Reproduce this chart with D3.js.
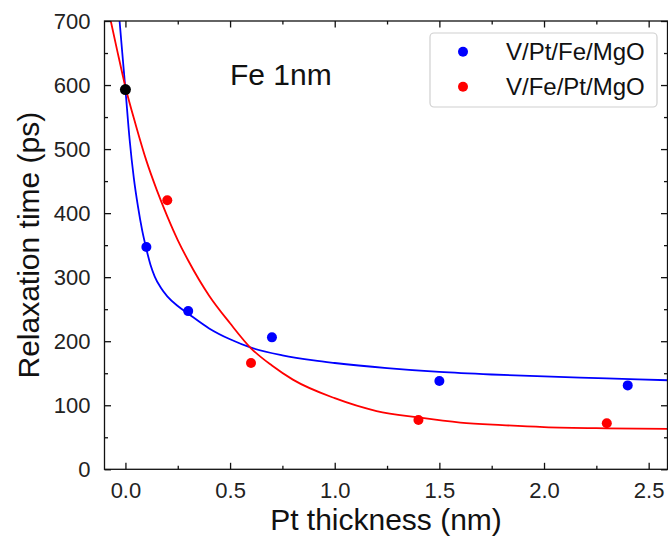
<!DOCTYPE html>
<html>
<head>
<meta charset="utf-8">
<script src="https://cdn.jsdelivr.net/npm/d3@7"></script>
<style>
  html, body { margin: 0; padding: 0; background: #fff; }
  svg { display: block; font-family: "Liberation Sans", Arial, sans-serif; }
</style>
</head>
<body>
<svg id="chart" width="668" height="536"></svg>
<script>
// ---- data ----
const seriesNames = ["V/Pt/Fe/MgO", "V/Fe/Pt/MgO"];
const bluePtsX = [0.1, 0.3, 0.7, 1.5, 2.4];
const bluePtsY = [347, 247, 206, 138, 131];
const redPtsX = [0.2, 0.6, 1.4, 2.3];
const redPtsY = [420, 166, 77, 72];
const sharedPtX = [0];
const sharedPtY = [593];
// fitted curves
const blueFitX = [-0.028, -0.015, 0, 0.02, 0.04, 0.06, 0.08, 0.1, 0.12, 0.14, 0.17, 0.2, 0.25, 0.3, 0.4, 0.5, 0.6, 0.75, 0.9, 1.0, 1.25, 1.5, 1.75, 2.0, 2.3, 2.6];
const blueFitY = [700, 650, 593, 515, 455, 410, 373, 344, 319, 301, 283, 270, 255, 243, 220, 203, 190, 178, 170, 166, 158, 152, 148, 145, 142, 139];
const redFitX = [-0.07, -0.04, 0, 0.05, 0.1, 0.15, 0.2, 0.25, 0.3, 0.4, 0.5, 0.6, 0.7, 0.8, 1.0, 1.2, 1.4, 1.6, 1.8, 2.0, 2.3, 2.6];
const redFitY = [700, 655, 597, 537, 482, 436, 395, 358, 326, 271, 228, 189, 162, 140, 111, 91, 81, 73, 69, 66, 64, 63];
const xTickValues = [0, 0.5, 1.0, 1.5, 2.0, 2.5];
const xMinorValues = [0.25, 0.75, 1.25, 1.75, 2.25];
const yTickValues = [0, 100, 200, 300, 400, 500, 600, 700];
const yMinorValues = [50, 150, 250, 350, 450, 550, 650];
const annotation = "Fe 1nm";
const xLabel = "Pt thickness (nm)";
const yLabel = "Relaxation time (ps)";

// ---- layout ----
const L = 104.5, R = 667.5, T = 21, B = 469.3;
const svg = d3.select("#chart");
const x = d3.scaleLinear().domain([-0.1, 2.59]).range([L, R]);
const y = d3.scaleLinear().domain([0, 700]).range([B, T]);

svg.append("defs").append("clipPath").attr("id", "clip")
  .append("rect").attr("x", L).attr("y", T).attr("width", R - L).attr("height", B - T);

const plot = svg.append("g").attr("clip-path", "url(#clip)");
const line = d3.line().x(d => x(d[0])).y(d => y(d[1])).curve(d3.curveMonotoneX);

plot.append("path").datum(blueFitX.map((v, i) => [v, blueFitY[i]]))
  .attr("d", line).attr("fill", "none").attr("stroke", "#0000ff").attr("stroke-width", 1.8);
plot.append("path").datum(redFitX.map((v, i) => [v, redFitY[i]]))
  .attr("d", line).attr("fill", "none").attr("stroke", "#ff0000").attr("stroke-width", 1.8);

plot.selectAll(".bp").data(bluePtsX.map((v, i) => [v, bluePtsY[i]])).join("circle")
  .attr("cx", d => x(d[0])).attr("cy", d => y(d[1])).attr("r", 5).attr("fill", "#0000ff");
plot.selectAll(".rp").data(redPtsX.map((v, i) => [v, redPtsY[i]])).join("circle")
  .attr("cx", d => x(d[0])).attr("cy", d => y(d[1])).attr("r", 5).attr("fill", "#ff0000");
plot.selectAll(".kp").data(sharedPtX.map((v, i) => [v, sharedPtY[i]])).join("circle")
  .attr("cx", d => x(d[0])).attr("cy", d => y(d[1])).attr("r", 5.5).attr("fill", "#000");

// ---- axes ----
const fmtX = d3.format(".1f");
const axisColor = "#111";
function styleAxis(g) {
  g.select(".domain").remove();
  g.selectAll("line").attr("stroke", axisColor).attr("stroke-width", 1.3);
}
// bottom
svg.append("g").attr("transform", `translate(0,${B})`)
  .call(d3.axisBottom(x).tickValues(xTickValues).tickSize(-6.5).tickPadding(13).tickFormat(fmtX))
  .call(styleAxis)
  .call(g => g.selectAll("text").attr("font-size", 22).attr("fill", "#222").attr("font-family", "Liberation Sans, Arial, sans-serif"));
svg.append("g").attr("transform", `translate(0,${B})`)
  .call(d3.axisBottom(x).tickValues(xMinorValues).tickSize(-3.5).tickFormat(""))
  .call(styleAxis);
// top
svg.append("g").attr("transform", `translate(0,${T})`)
  .call(d3.axisTop(x).tickValues(xTickValues).tickSize(-6.5).tickFormat(""))
  .call(styleAxis);
svg.append("g").attr("transform", `translate(0,${T})`)
  .call(d3.axisTop(x).tickValues(xMinorValues).tickSize(-3.5).tickFormat(""))
  .call(styleAxis);
// left
svg.append("g").attr("transform", `translate(${L},0)`)
  .call(d3.axisLeft(y).tickValues(yTickValues).tickSize(-6.5).tickPadding(14).tickFormat(d3.format("d")))
  .call(styleAxis)
  .call(g => g.selectAll("text").attr("font-size", 22).attr("fill", "#222").attr("font-family", "Liberation Sans, Arial, sans-serif"));
svg.append("g").attr("transform", `translate(${L},0)`)
  .call(d3.axisLeft(y).tickValues(yMinorValues).tickSize(-3.5).tickFormat(""))
  .call(styleAxis);
// right
svg.append("g").attr("transform", `translate(${R},0)`)
  .call(d3.axisRight(y).tickValues(yTickValues).tickSize(-6.5).tickFormat(""))
  .call(styleAxis);
svg.append("g").attr("transform", `translate(${R},0)`)
  .call(d3.axisRight(y).tickValues(yMinorValues).tickSize(-3.5).tickFormat(""))
  .call(styleAxis);

// frame
svg.append("rect").attr("x", L).attr("y", T).attr("width", R - L).attr("height", B - T)
  .attr("fill", "none").attr("stroke", axisColor).attr("stroke-width", 1.3);

// ---- labels ----
svg.append("text").attr("x", (L + R) / 2).attr("y", 530).attr("text-anchor", "middle")
  .attr("font-size", 30).attr("fill", "#111").text(xLabel);
svg.append("text").attr("transform", `translate(39,${(T + B) / 2}) rotate(-90)`)
  .attr("text-anchor", "middle").attr("font-size", 30).attr("fill", "#111").text(yLabel);

svg.append("text").attr("x", 230).attr("y", 85).attr("font-size", 30).attr("fill", "#111").text(annotation);

// ---- legend ----
const lg = svg.append("g");
lg.append("rect").attr("x", 430).attr("y", 33).attr("width", 227).attr("height", 74).attr("rx", 4)
  .attr("fill", "#fff").attr("fill-opacity", 0.8).attr("stroke", "#d0d0d0").attr("stroke-width", 1.2);
const legendColors = ["#0000ff", "#ff0000"];
seriesNames.forEach((name, i) => {
  const cy = 51.7 + i * 35;
  lg.append("circle").attr("cx", 463).attr("cy", cy).attr("r", 5).attr("fill", legendColors[i]);
  lg.append("text").attr("x", 506).attr("y", cy + 8.5).attr("font-size", 24).attr("fill", "#111").text(name);
});
</script>
</body>
</html>
